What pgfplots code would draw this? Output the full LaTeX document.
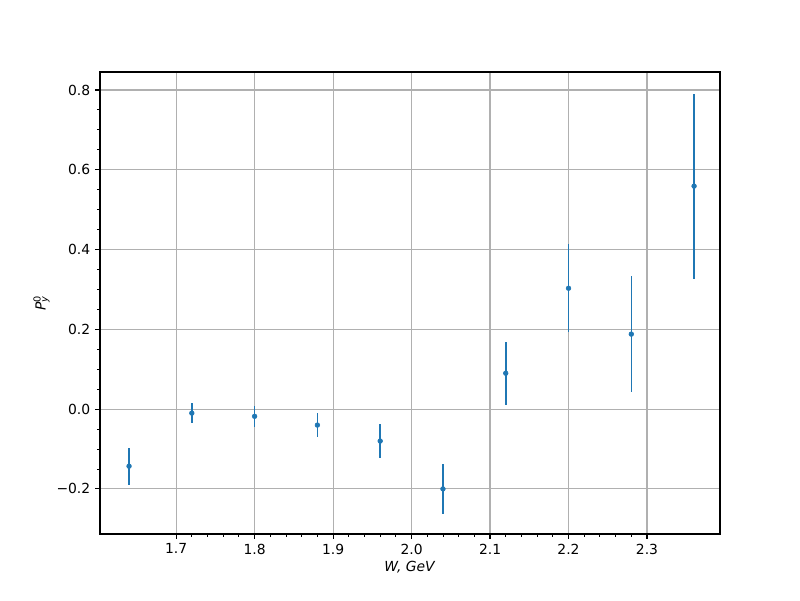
\documentclass[border=0pt]{standalone}
\usepackage{fontspec}
\setmainfont{DejaVu Sans}
\usepackage{pgfplots}
\pgfplotsset{compat=1.18}
\definecolor{C0}{HTML}{1F77B4}
\definecolor{gridc}{HTML}{B0B0B0}
\begin{document}
\begin{tikzpicture}
\path[use as bounding box] (0pt,0pt) rectangle (576pt,432pt);
\begin{axis}[
  at={(72pt,47.52pt)}, anchor=south west,
  scale only axis, width=446.4pt, height=332.64pt,
  xmin=1.603, xmax=2.393, ymin=-0.313, ymax=0.845,
  axis line style={line width=0.8pt},
  tick align=outside, tick pos=left,
  major tick length=3.5pt, minor tick length=2pt,
  every tick/.style={black, line width=0.8pt},
  minor tick style={line width=0.6pt},
  xtick={1.7,1.8,1.9,2.0,2.1,2.2,2.3},
  xticklabels={1.7,1.8,1.9,2.0,2.1,2.2,2.3},
  ytick={-0.2,0,0.2,0.4,0.6,0.8},
  yticklabels={−0.2,0.0,0.2,0.4,0.6,0.8},
  minor x tick num=4, minor y tick num=3,
  grid=major, major grid style={gridc, line width=0.8pt},
  ticklabel style={font=\fontsize{10}{12}\selectfont},
  xlabel={\textit{W, GeV}},
  ylabel={\textit{P}\rlap{\textsuperscript{0}}\textsubscript{\textit{y}}},
  label style={font=\fontsize{10}{12}\selectfont},
  xlabel style={yshift=2pt},
  ylabel style={yshift=-2pt},
]
\addplot[C0, only marks, mark=*, mark size=1.7pt, mark options={C0, draw=C0},
  error bars/.cd, y dir=both, y explicit,
  error bar style={C0, line width=1.1pt}, error mark=none]
  table[x=x, y=y, y error=e] {
x y e
1.64 -0.143 0.046
1.72 -0.010 0.025
1.80 -0.018 0.027
1.88 -0.040 0.030
1.96 -0.080 0.042
2.04 -0.200 0.062
2.12 0.090 0.079
2.20 0.303 0.110
2.28 0.188 0.145
2.36 0.559 0.232
};
\end{axis}
\end{tikzpicture}
\end{document}
